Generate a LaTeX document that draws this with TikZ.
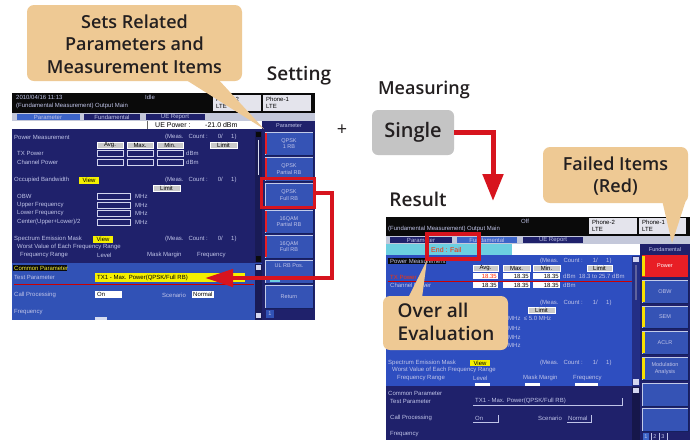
\documentclass[tikz,border=0pt]{standalone}
\usepackage{fontspec}
\setmainfont{Open Sans}
\IfFontExistsTF{Open Sans Semibold}{\newfontfamily\semib{Open Sans Semibold}}{\newfontfamily\semib{Open Sans}}
\newfontfamily\scrf{Liberation Sans}
\usetikzlibrary{arrows.meta}
\definecolor{tan}{HTML}{EEC994}
\definecolor{ink}{HTML}{231F20}
\definecolor{navy}{HTML}{1F216B}
\definecolor{blueL}{HTML}{3152B6}
\definecolor{blueR}{HTML}{2E4EC0}
\definecolor{btnc}{HTML}{3553B5}
\definecolor{btnb}{HTML}{16205E}
\definecolor{hdr}{HTML}{0A0A0A}
\definecolor{tabbar}{HTML}{C4C8DA}
\definecolor{stc}{HTML}{C0C4E8}
\definecolor{yel}{HTML}{F5F000}
\definecolor{cyanrow}{HTML}{6CCFE0}
\definecolor{redb}{HTML}{E81E25}
\definecolor{arrred}{HTML}{D7141E}
\definecolor{frame}{HTML}{8C94AC}
\definecolor{graybtn}{HTML}{C4C4C4}
\definecolor{phoneb}{HTML}{E4E4EC}
\definecolor{tabhi}{HTML}{3C64C8}
\tikzset{
  stx/.style={font=\scrf\fontsize{6}{6.4}\selectfont,text=stc,inner sep=0pt,anchor=west},
  stxd/.style={stx,text=black},
  btx/.style={font=\scrf\fontsize{5.5}{6.4}\selectfont,text=stc,inner sep=0pt,align=center},
  callout/.style={fill=tan,rounded corners=7pt},
  calltxt/.style={font=\semib\fontsize{18}{22}\selectfont,text=ink,align=center,inner sep=0pt},
  heading/.style={font=\semib\fontsize{19}{22}\selectfont,text=ink,inner sep=0pt},
  redline/.style={draw=arrred,line width=4pt},
  gbtn/.style={fill=graybtn!90!white,draw=white,line width=0.3pt},
}
\newcommand\sbtn[5]{% x1 y1 x2 y2 text : small gray button
  \draw[gbtn] (#1,#2) rectangle (#3,#4);
  \node[stxd,anchor=center] at ({(#1+#3)/2},{(#2+#4)/2}) {#5};}
\newcommand\fld[4]{% empty field
  \draw[draw=stc!70,line width=0.4pt] (#1,#2) rectangle (#3,#4);}
\newcommand\wfld[5]{% white field w/ text
  \fill[white] (#1,#2) rectangle (#3,#4);
  \node[stxd,anchor=east] at ({#3-1},{(#2+#4)/2}) {#5};}
\newcommand\pbtn[5]{% panel button
  \fill[btnc] (#1,#2) rectangle (#3,#4);
  \draw[btnb,line width=0.8pt] (#1,#4) -- (#3,#4) -- (#3,#2);
  \draw[white!70!btnc,line width=0.6pt] (#1,#4) -- (#1,#2) -- (#3,#2);
  \node[btx] at ({(#1+#3)/2},{(#2+#4)/2}) {#5};}
\newcommand\mc{(Meas.\ \ \ Count :\ \ \ \ \ \ 0/\ \ \ \ \ 1)}
\newcommand\mcr{(Meas.\ \ \ Count :\ \ \ \ \ \ 1/\ \ \ \ \ 1)}
\begin{document}
\begin{tikzpicture}[x=1pt,y=-1pt]
\useasboundingbox (0,0) rectangle (699,440);
\fill[white] (0,0) rectangle (699,440);

% ================= LEFT SCREENSHOT =================
\fill[frame] (12,93) rectangle (315,320);
\fill[hdr] (12,93) rectangle (315,113);
\node[stx] at (16,97.5) {2010/04/16 11:13};
\node[stx] at (145,97.5) {Idle};
\node[stx] at (16,106) {(Fundamental Measurement) Output Main};
\fill[phoneb] (213,95) rectangle (261,111);
\node[stxd] at (216,99) {Phone-2};
\node[stxd] at (216,106) {LTE};
\fill[phoneb] (263,95) rectangle (311,111);
\node[stxd] at (266,99) {Phone-1};
\node[stxd] at (266,106) {LTE};
\fill[tabbar] (12,113) rectangle (315,121);
\fill[tabhi] (17,114) rectangle (80,120);
\node[stx,anchor=center] at (48,117) {Parameter};
\fill[navy] (84,114) rectangle (140,120);
\node[stx,anchor=center] at (112,117) {Fundamental};
\fill[navy] (146,114) rectangle (205,120);
\node[stx,anchor=center] at (175,117) {UE Report};
\fill[white] (12,121) rectangle (262,129);
\draw[black!60] (147,121) -- (147,129);
\node[stxd,font=\scrf\fontsize{7}{7}\selectfont] at (155,125) {UE Power :};
\node[stxd,font=\scrf\fontsize{7}{7}\selectfont] at (205,125) {-21.0 dBm};
% main panel
\fill[navy] (12,129) rectangle (262,263);
\fill[navy!80!black] (255,131) rectangle (262,262);
\fill[hdr] (256,132) rectangle (261,137);
\fill[stc!60] (258,140) rectangle (259,175);
\fill[hdr] (256,256) rectangle (261,262);
\node[stx] at (14,137) {Power Measurement};
\node[stx] at (165,137) {\mc};
\sbtn{97}{142}{123}{148}{Avg.}
\sbtn{127}{142}{153}{148}{Max.}
\sbtn{157}{142}{183}{148}{Min.}
\sbtn{210}{142}{237}{148}{Limit}
\node[stx] at (17,153) {TX Power};
\node[stx] at (17,162) {Channel Power};
\fld{97}{150}{123}{156}\fld{127}{150}{153}{156}\fld{157}{150}{183}{156}
\fld{97}{159}{123}{165}\fld{127}{159}{153}{165}\fld{157}{159}{183}{165}
\node[stx] at (186,153) {dBm};
\node[stx] at (186,162) {dBm};
\node[stx] at (14,180) {Occupied Bandwidth};
\fill[yel] (79,177) rectangle (99,184);
\node[stxd,anchor=center] at (89,180.5) {View};
\node[stx] at (165,180) {\mc};
\sbtn{153}{185}{180}{191}{Limit}
\node[stx] at (17,196) {OBW};
\node[stx] at (17,205) {Upper Frequency};
\node[stx] at (17,213) {Lower Frequency};
\node[stx] at (17,222) {Center(Upper+Lower)/2};
\foreach \yy in {196,205,213,222}{
  \fld{97}{\yy-3}{130}{\yy+3}
  \node[stx] at (135,\yy) {MHz};}
\node[stx] at (14,239) {Spectrum Emission Mask};
\fill[yel] (93,236) rectangle (113,243);
\node[stxd,anchor=center] at (103,239.5) {View};
\node[stx] at (165,239) {\mc};
\node[stx] at (17,247) {Worst Value of Each Frequency Range};
\node[stx] at (20,255) {Frequency Range};
\node[stx] at (97,255) {Level};
\node[stx] at (147,255) {Mask Margin};
\node[stx] at (197,255) {Frequency};
% lower panel
\fill[blueL] (12,263) rectangle (262,320);
\fill[navy!80!black] (255,264) rectangle (262,320);
\fill[stc!70] (256,265) rectangle (261,270);
\fill[stc!70] (256,313) rectangle (261,318);
\fill[hdr] (13,265) rectangle (67,271);
\node[stx,text=yel!80!white] at (14,268) {Common Parameter};
\node[stx] at (14,277) {Test Parameter};
\fill[yel] (95,273) rectangle (245,282);
\node[stxd,name=tpL] at (97,277.5) {TX1 - Max. Power(QPSK/Full RB)};
\coordinate (tpLend) at (205,278);
\draw[red!80!black,line width=0.5pt] (14,284) -- (254,284);
\node[stx] at (14,295) {Call Processing};
\fill[white] (95,291) rectangle (122,298);
\node[stxd] at (97,294.5) {On};
\node[stx] at (162,295) {Scenario};
\fill[white] (192,291) rectangle (214,298);
\node[stxd] at (193,294.5) {Normal};
\node[stx] at (14,312) {Frequency};
\fill[white!80!blueL] (95,317) rectangle (107,320);
% right column
\fill[navy] (262,121) rectangle (315,320);
\node[btx] at (289,125.5) {Parameter};
\pbtn{265}{132}{313}{155}{QPSK\\1 RB}
\pbtn{265}{157}{313}{181}{QPSK\\Partial RB}
\pbtn{265}{183}{313}{207}{QPSK\\Full RB}
\pbtn{265}{210}{313}{233}{16QAM\\Partial RB}
\pbtn{265}{235}{313}{258}{16QAM\\Full RB}
\pbtn{265}{260}{313}{283}{UL RB Pos.\\[6pt]}
\fill[cyanrow] (270,279) rectangle (280,282);
\pbtn{265}{285}{313}{308}{Return}
\foreach \ya/\yb in {132/155,157/181,210/233,235/258}{
  \fill[redb] (265,\ya+1) rectangle (267,\yb-1);}
\fill[blueL] (266,310) rectangle (274,318);
\node[btx] at (270,314) {1};

% ================= RIGHT SCREENSHOT =================
\fill[frame] (386,217) rectangle (690,440);
\fill[hdr] (386,217) rectangle (690,236);
\node[stx,anchor=center] at (525,221) {Off};
\node[stx] at (388,229) {(Fundamental Measurement) Output Main};
\fill[phoneb] (589,218) rectangle (637,234);
\node[stxd] at (592,222) {Phone-2};
\node[stxd] at (592,229) {LTE};
\fill[phoneb] (639,218) rectangle (686,234);
\node[stxd] at (642,222) {Phone-1};
\node[stxd] at (642,229) {LTE};
\fill[tabbar] (386,236) rectangle (690,244);
\fill[navy] (390,237) rectangle (452,243);
\node[stx,anchor=center] at (421,240) {Parameter};
\fill[tabhi] (457,237) rectangle (517,243);
\node[stx,anchor=center] at (487,240) {Fundamental};
\fill[navy] (523,237) rectangle (583,243);
\node[stx,anchor=center] at (553,240) {UE Report};
\fill[cyanrow] (386,244) rectangle (512,255);
\fill[white] (512,244) rectangle (640,255);
\node[stx,text=red!70!orange,font=\scrf\fontsize{7}{7}\selectfont] (endfail) at (431,249.5) {End : Fail};
% main panel
\fill[blueR] (386,255) rectangle (640,386);
\fill[navy!70!blueR] (632,256) rectangle (640,386);
\fill[stc!70] (633,257) rectangle (639,262);
\fill[stc!40!navy] (635,265) rectangle (637,300);
\fill[stc!70] (633,379) rectangle (639,385);
\fill[hdr] (388,258) rectangle (446,264);
\node[stx] at (390,261) {Power Measurement};
\node[stx] at (540,261) {\mcr};
\sbtn{473}{265}{498}{271}{Avg.}
\sbtn{503}{265}{530}{271}{Max.}
\sbtn{533}{265}{560}{271}{Min.}
\sbtn{587}{265}{612}{271}{Limit}
\node[stx,text=red!60!orange] at (390,277) {TX Power};
\draw[red!80!black,line width=0.5pt] (388,281) -- (632,281);
\fill[white] (473,273) rectangle (498,279);
\node[stx,text=red!70!orange,anchor=east] at (497,276) {18.35};
\wfld{503}{273}{530}{279}{18.35}
\wfld{533}{273}{560}{279}{18.35}
\node[stx] at (563,276) {dBm\ \ 18.3 to 25.7 dBm};
\node[stx] at (390,285) {Channel Power};
\wfld{473}{282}{498}{288}{18.35}
\wfld{503}{282}{530}{288}{18.35}
\wfld{533}{282}{560}{288}{18.35}
\node[stx] at (563,285) {dBm};
\node[stx] at (540,303) {\mcr};
\sbtn{528}{307}{555}{313}{Limit}
\node[stx] at (508,318) {MHz\ \ ≤ 5.0 MHz};
\node[stx] at (508,328) {MHz};
\node[stx] at (508,337) {MHz};
\node[stx] at (508,345) {MHz};
\node[stx] at (388,363) {Spectrum Emission Mask};
\fill[yel] (470,360) rectangle (490,366);
\node[stxd,anchor=center] at (480,363.5) {View};
\node[stx] at (540,363) {\mcr};
\node[stx] at (392,370) {Worst Value of Each Frequency Range};
\node[stx] at (397,378) {Frequency Range};
\node[stx] at (473,378) {Level};
\node[stx] at (523,378) {Mask Margin};
\node[stx] at (573,378) {Frequency};
\fill[white] (475,383) rectangle (490,386);
\fill[white] (525,383) rectangle (540,386);
\fill[white] (575,383) rectangle (598,386);
% lower panel
\fill[navy] (386,386) rectangle (640,440);
\fill[navy!70!black] (632,387) rectangle (640,440);
\fill[stc!70] (633,388) rectangle (639,393);
\node[stx] at (388,393) {Common Parameter};
\node[stx] at (390,401) {Test Parameter};
\draw[stc,line width=0.4pt] (473,405) -- (622,405) -- (622,398);
\node[stx] at (475,401) {TX1 - Max. Power(QPSK/Full RB)};
\node[stx] at (390,418) {Call Processing};
\draw[stc,line width=0.4pt] (473,422) -- (498,422) -- (498,415);
\node[stx] at (475,418) {On};
\node[stx] at (538,418) {Scenario};
\draw[stc,line width=0.4pt] (567,422) -- (591,422) -- (591,415);
\node[stx] at (568,418) {Normal};
\node[stx] at (390,434) {Frequency};
% right column
\fill[navy] (640,244) rectangle (690,440);
\node[btx] at (665,250) {Fundamental};
\fill[redb] (642,255) rectangle (688,277);
\node[btx,text=white] at (665,266) {Power};
\pbtn{642}{280}{688}{303}{OBW}
\pbtn{642}{306}{688}{328}{SEM}
\pbtn{642}{331}{688}{354}{ACLR}
\pbtn{642}{357}{688}{380}{Modulation\\Analysis}
\pbtn{642}{383}{688}{406}{}
\pbtn{642}{408}{688}{431}{}
\foreach \ya/\yb in {255/277,280/303,306/328,331/354,357/380}{
  \fill[yel!85!orange] (642,\ya+1) rectangle (644.5,\yb-1);}
\fill[tabhi] (643,433) rectangle (649,440);
\node[btx] at (646,436.5) {1};
\node[btx] at (655,436.5) {2};
\node[btx] at (663,436.5) {3};
\draw[stc] (651,433) -- (651,440) (659,433) -- (659,440) (667,433) -- (667,440);

% ================= CALLOUTS & LABELS =================
\fill[tan] (183,78) -- (217,78) -- (264,129) -- cycle;
\fill[callout] (27,5) rectangle (242,81);
\node[calltxt,font=\semib\fontsize{18}{22.5}\selectfont] (sets) at (134.5,44) {Sets Related\\Parameters and\\Measurement Items};

\node[heading] (setting) at (299,76) {Setting};
\node[heading,font=\fontsize{18}{22}\selectfont] (plus) at (342,130) {+};
\node[heading,font=\semib\fontsize{18}{22}\selectfont] (measuring) at (424,90) {Measuring};
\node[fill=graybtn,rounded corners=6pt,minimum width=82pt,minimum height=45pt,inner sep=0pt,
      font=\semib\fontsize{20}{22}\selectfont,text=ink] (single) at (413,132.5) {Single};
\node[heading] (result) at (418,199) {Result};

\fill[tan] (662,200) -- (686,200) -- (672,243) -- cycle;
\fill[callout] (543,147) rectangle (688,203);
\node[calltxt] (failed) at (615.5,176) {Failed Items\\(Red)};

% red box around End : Fail and overall callout
\draw[arrred,line width=3.5pt] (427,234) rectangle (479,259);
\fill[tan] (408,298) -- (422,298) -- (427,260) -- cycle;
\fill[callout] (383,296) rectangle (508,350);
\node[calltxt,align=left,font=\semib\fontsize{19}{23}\selectfont] (overall) at (446,322) {Over all\\Evaluation};

% red box around QPSK Full RB + arrow to test parameter
\node[draw=arrred,line width=3.5pt,minimum width=53pt,minimum height=29pt,inner sep=0pt] (selbox) at (288,193) {};
\coordinate (c1) at (332,193);
\coordinate (c2) at (332,278);
\draw[redline,-{Triangle[length=28pt,width=17pt]}] (selbox.east) -- (c1) -- (c2) -- (tpLend);

% arrow from Single to Result
\coordinate (c3) at (493,132.5);
\coordinate (resTop) at (493,201);
\draw[draw=arrred,line width=5pt,-{Triangle[length=27pt,width=20pt]}] (single.east) -- (c3) -- (resTop);
\end{tikzpicture}
\end{document}
